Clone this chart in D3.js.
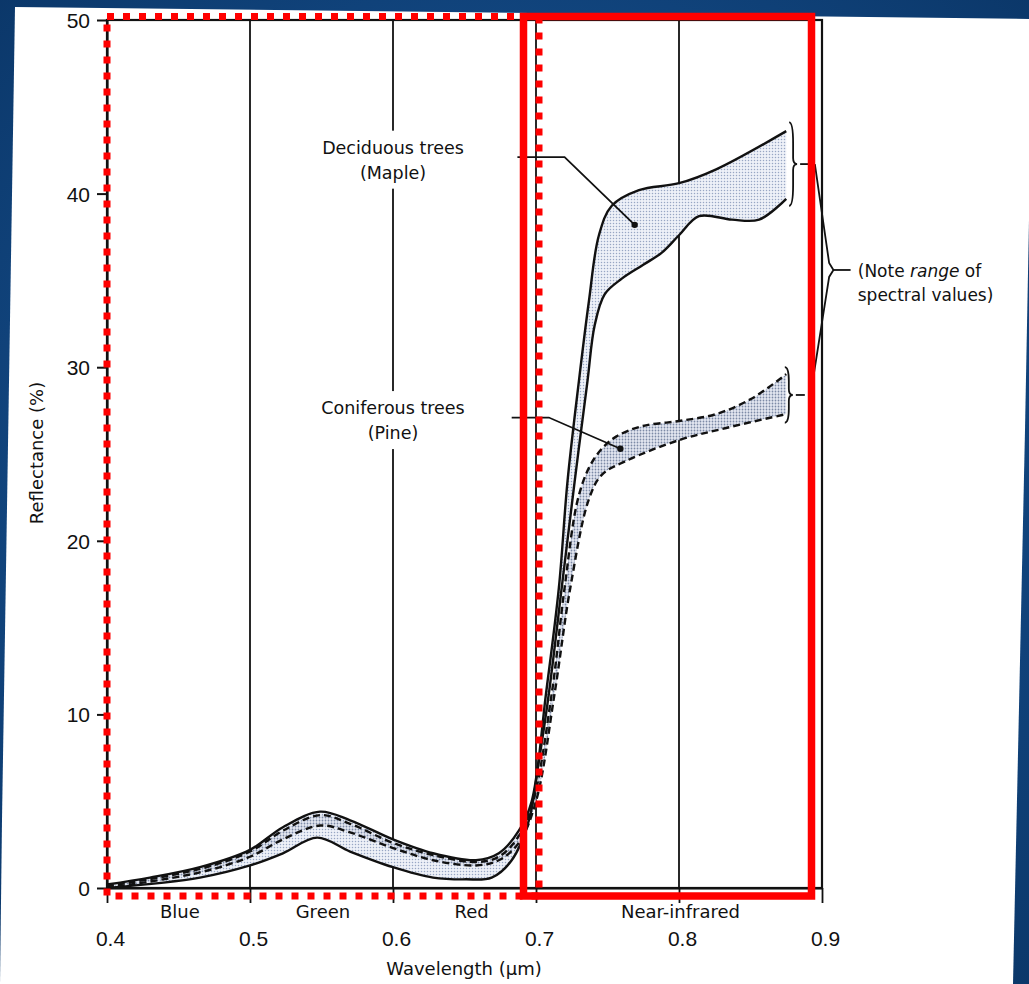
<!DOCTYPE html>
<html>
<head>
<meta charset="utf-8">
<script src="https://cdn.jsdelivr.net/npm/d3@7"></script>
<style>
  html, body { margin: 0; padding: 0; background: #0d3f78; }
  svg { display: block; }
</style>
</head>
<body>
<div id="chart"></div>
<script>
// spectral reflectance curves, [wavelength um, reflectance %]
var decidUpper = [[0.400,0.2],[0.430,0.6],[0.465,1.2],[0.500,2.2],[0.523,3.5],[0.549,4.4],[0.570,3.9],
  [0.600,2.8],[0.628,2.0],[0.658,1.6],[0.674,2.0],[0.688,3.3],[0.697,5.0],[0.707,11.2],[0.716,17.3],
  [0.722,23.4],[0.730,29.2],[0.737,33.8],[0.744,37.6],[0.753,39.3],[0.772,40.2],[0.800,40.6],[0.826,41.4],[0.875,43.6]];
var decidLower = [[0.400,0.0],[0.465,0.6],[0.500,1.3],[0.523,2.0],[0.547,2.9],[0.570,2.1],[0.600,1.2],
  [0.628,0.6],[0.651,0.5],[0.669,0.6],[0.683,1.6],[0.695,3.9],[0.702,7.3],[0.709,11.2],[0.718,17.3],
  [0.727,23.4],[0.736,29.2],[0.741,32.4],[0.748,34.2],[0.760,35.1],[0.775,35.9],[0.788,36.6],[0.800,37.6],
  [0.814,38.7],[0.837,38.5],[0.856,38.5],[0.875,39.7]];
var conifUpper = [[0.400,0.1],[0.465,1.1],[0.500,2.1],[0.523,3.3],[0.549,4.2],[0.570,3.7],[0.600,2.6],
  [0.628,1.9],[0.658,1.5],[0.674,1.8],[0.688,3.0],[0.698,5.0],[0.711,11.2],[0.720,17.3],[0.729,22.3],
  [0.737,24.2],[0.746,25.3],[0.756,26.0],[0.774,26.6],[0.800,26.9],[0.826,27.3],[0.851,28.2],[0.875,29.6]];
var conifLower = [[0.400,0.0],[0.465,0.9],[0.500,1.8],[0.523,2.8],[0.549,3.6],[0.570,3.2],[0.600,2.3],
  [0.628,1.6],[0.658,1.3],[0.674,1.6],[0.688,2.6],[0.700,5.0],[0.713,11.2],[0.724,17.3],[0.737,22.4],
  [0.746,23.8],[0.763,24.6],[0.800,25.8],[0.833,26.5],[0.875,27.3]];

var xTicks = [0.4, 0.5, 0.6, 0.7, 0.8, 0.9];
var yTicks = [0, 10, 20, 30, 40, 50];
var gridTicks = [0.5, 0.6, 0.7, 0.8];
var bandNames = ["Blue", "Green", "Red", "Near-infrared"];
var bandCenters = [0.451, 0.551, 0.655, 0.801];

var W = 1029, H = 984;
var svg = d3.select("#chart").append("svg").attr("width", W).attr("height", H);

var x = d3.scaleLinear().domain([0.4, 0.9]).range([107, 822]);
var y = d3.scaleLinear().domain([0, 50]).range([888, 20]);

var numFont = "Liberation Sans, Arial, sans-serif";
var txtFont = "DejaVu Sans, Verdana, sans-serif";

// scanned page look: blue backdrop, white paper
var defs = svg.append("defs");
var grad = defs.append("radialGradient").attr("id", "bg").attr("cx", "50%").attr("cy", "50%").attr("r", "75%");
grad.append("stop").attr("offset", "0%").attr("stop-color", "#1d5fa6");
grad.append("stop").attr("offset", "100%").attr("stop-color", "#0a3566");
var pat = defs.append("pattern").attr("id", "stip").attr("width", 3).attr("height", 3).attr("patternUnits", "userSpaceOnUse");
pat.append("rect").attr("width", 3).attr("height", 3).attr("fill", "#eef1f8");
pat.append("circle").attr("cx", 1.5).attr("cy", 1.5).attr("r", 0.75).attr("fill", "#98a6c4");
var pat2 = defs.append("pattern").attr("id", "stip2").attr("width", 3).attr("height", 3).attr("patternUnits", "userSpaceOnUse");
pat2.append("rect").attr("width", 3).attr("height", 3).attr("fill", "#e4e8f2");
pat2.append("circle").attr("cx", 1.5).attr("cy", 1.5).attr("r", 0.9).attr("fill", "#7d8aa6");

svg.append("rect").attr("width", W).attr("height", H).attr("fill", "url(#bg)");
svg.append("polygon")
  .attr("points", [[0,984],[2,820],[15,7],[1029,19],[1029,220],[1025,430],[1013,984]].join(" "))
  .attr("fill", "#ffffff");

var g = svg.append("g");

var curve = d3.line().x(d => x(d[0])).y(d => y(d[1])).curve(d3.curveCatmullRom.alpha(0.5));
function bandPath(up, lo) {
  return curve(up) + "L" + curve(lo.slice().reverse()).slice(1) + "Z";
}

// vertical gridlines
g.selectAll(".grid").data(gridTicks).enter().append("path")
  .attr("class", "grid")
  .attr("d", d => "M" + x(d) + "," + y(50) + "V" + y(0))
  .attr("stroke", "#111").attr("stroke-width", 1.8).attr("fill", "none");

// stippled ranges
g.append("path").attr("d", bandPath(decidUpper, decidLower)).attr("fill", "url(#stip)");
g.append("path").attr("d", bandPath(conifUpper, conifLower)).attr("fill", "url(#stip2)");

// frame
g.append("rect")
  .attr("x", x(0.4)).attr("y", y(50))
  .attr("width", x(0.9) - x(0.4)).attr("height", y(0) - y(50))
  .attr("fill", "none").attr("stroke", "#111").attr("stroke-width", 2.2);

// curves
[decidUpper, decidLower].forEach(function (c) {
  g.append("path").attr("d", curve(c)).attr("fill", "none").attr("stroke", "#111").attr("stroke-width", 2.4);
});
[conifUpper, conifLower].forEach(function (c) {
  g.append("path").attr("d", curve(c)).attr("fill", "none").attr("stroke", "#111")
    .attr("stroke-width", 2.4).attr("stroke-dasharray", "7,4");
});

// axes
var yAxis = g.append("g").attr("transform", "translate(" + x(0.4) + ",0)")
  .call(d3.axisLeft(y).tickValues(yTicks).tickSize(10).tickSizeOuter(0).tickPadding(7));
yAxis.select(".domain").attr("stroke", "#111").attr("stroke-width", 2.2);
yAxis.selectAll(".tick line").attr("stroke", "#111").attr("stroke-width", 2);
yAxis.selectAll(".tick text").attr("font-family", numFont)
  .attr("font-size", 21).attr("fill", "#111").attr("dy", "0.36em");

var xAxis = g.append("g").attr("transform", "translate(0," + y(0) + ")")
  .call(d3.axisBottom(x).tickValues(xTicks).tickSize(15).tickSizeOuter(0).tickPadding(28).tickFormat(d3.format(".1f")));
xAxis.select(".domain").attr("stroke", "#111").attr("stroke-width", 2.2);
xAxis.selectAll(".tick line").attr("stroke", "#111").attr("stroke-width", 1.8);
xAxis.selectAll(".tick text").attr("font-family", numFont)
  .attr("font-size", 21).attr("fill", "#111").attr("dx", 3);

// band names under the axis
g.selectAll(".band").data(bandNames).enter().append("text")
  .attr("x", (d, i) => x(bandCenters[i])).attr("y", y(0) + 30)
  .attr("text-anchor", "middle")
  .attr("font-family", txtFont).attr("font-size", 18).attr("fill", "#111")
  .text(d => d);

// axis titles
g.append("text").attr("x", 464).attr("y", 975).attr("text-anchor", "middle")
  .attr("font-family", txtFont).attr("font-size", 18).attr("fill", "#111")
  .text("Wavelength (\u03bcm)");
g.append("text").attr("transform", "translate(43,453) rotate(-90)").attr("text-anchor", "middle")
  .attr("font-family", txtFont).attr("font-size", 18).attr("fill", "#111")
  .text("Reflectance (%)");

// annotations; a white block breaks the 0.6 gridline behind each label
function label(lines, cx, base) {
  g.append("rect").attr("x", x(cx) - 12).attr("y", y(base) - 23)
    .attr("width", 24).attr("height", 58).attr("fill", "#ffffff");
  lines.forEach(function (t, i) {
    g.append("text").attr("x", x(cx)).attr("y", y(base) + i * 25).attr("text-anchor", "middle")
      .attr("font-family", txtFont).attr("font-size", 17.5).attr("fill", "#111").text(t);
  });
}
label(["Deciduous trees", "(Maple)"], 0.6, 42.3);
label(["Coniferous trees", "(Pine)"], 0.6, 27.3);

function leader(pts) {
  g.append("path").attr("d", d3.line().x(d => x(d[0])).y(d => y(d[1]))(pts))
    .attr("fill", "none").attr("stroke", "#111").attr("stroke-width", 1.8);
  var e = pts[pts.length - 1];
  g.append("circle").attr("cx", x(e[0])).attr("cy", y(e[1])).attr("r", 3.2).attr("fill", "#111");
}
leader([[0.687, 42.1], [0.720, 42.1], [0.769, 38.2]]);
leader([[0.683, 27.1], [0.709, 27.1], [0.759, 25.3]]);

// curly brace pointing right
function brace(bx, r0, r1, w) {
  var X = x(bx), Y0 = y(r0), Y1 = y(r1), M = (Y0 + Y1) / 2, q = (Y1 - Y0) / 4;
  var p = "M" + X + "," + Y0 +
    "Q" + (X + w) + "," + Y0 + " " + (X + w) + "," + (Y0 + q) +
    "L" + (X + w) + "," + (M - 6) +
    "Q" + (X + w) + "," + M + " " + (X + 2 * w) + "," + M +
    "Q" + (X + w) + "," + M + " " + (X + w) + "," + (M + 6) +
    "L" + (X + w) + "," + (Y1 - q) +
    "Q" + (X + w) + "," + Y1 + " " + X + "," + Y1;
  g.append("path").attr("d", p).attr("fill", "none").attr("stroke", "#111").attr("stroke-width", 1.8);
  return X + 2 * w;
}
var b1 = brace(0.877, 44.1, 39.3, 4);
var b2 = brace(0.874, 30.0, 26.8, 4);
g.append("line").attr("x1", b1 + 3).attr("x2", b1 + 12).attr("y1", y(41.7)).attr("y2", y(41.7))
  .attr("stroke", "#111").attr("stroke-width", 1.8);
g.append("line").attr("x1", b2 + 3).attr("x2", b2 + 12).attr("y1", y(28.4)).attr("y2", y(28.4))
  .attr("stroke", "#111").attr("stroke-width", 1.8);

// big bracket joining the two ranges
g.append("path")
  .attr("d", d3.line().x(d => x(d[0])).y(d => y(d[1]))([[0.895, 41.7], [0.905, 36.0], [0.908, 35.6], [0.905, 35.2], [0.892, 28.4]]))
  .attr("fill", "none").attr("stroke", "#111").attr("stroke-width", 1.8);
g.append("line").attr("x1", x(0.908)).attr("x2", x(0.920)).attr("y1", y(35.6)).attr("y2", y(35.6))
  .attr("stroke", "#111").attr("stroke-width", 1.8);
var note = g.append("text").attr("x", x(0.925)).attr("y", y(35.6) + 7)
  .attr("font-family", txtFont).attr("font-size", 17).attr("fill", "#111");
note.append("tspan").text("(Note ");
note.append("tspan").attr("font-style", "italic").text("range");
note.append("tspan").text(" of");
g.append("text").attr("x", x(0.925)).attr("y", y(35.6) + 31)
  .attr("font-family", txtFont).attr("font-size", 17).attr("fill", "#111").text("spectral values)");

// red highlight boxes drawn over the figure
svg.append("rect").attr("x", 107).attr("y", 16.5).attr("width", 432).attr("height", 879.5)
  .attr("fill", "none").attr("stroke", "#ff0000").attr("stroke-width", 7).attr("stroke-dasharray", "7,9");
svg.append("rect").attr("x", 523.5).attr("y", 16.5).attr("width", 288).attr("height", 879.5)
  .attr("fill", "none").attr("stroke", "#ff0000").attr("stroke-width", 7.5);
</script>
</body>
</html>
